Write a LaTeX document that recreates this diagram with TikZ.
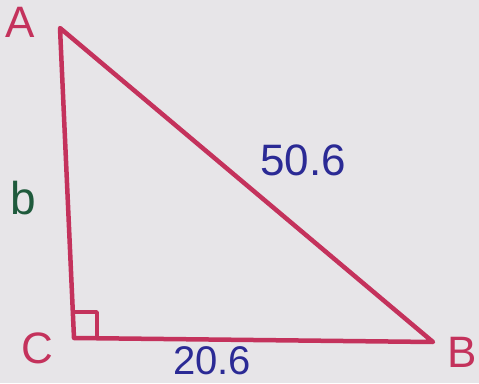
\documentclass[tikz,border=0pt]{standalone}
\usepackage{fontspec}
\setmainfont{Liberation Sans}
\definecolor{paper}{HTML}{E7E5E8}
\definecolor{pen}{HTML}{C4325C}
\definecolor{inkblue}{HTML}{2B2A95}
\definecolor{inkgreen}{HTML}{1F5A3C}
\begin{document}
\begin{tikzpicture}[x=1pt,y=1pt,
  side/.style={draw=pen,line width=4.5pt,line join=round,line cap=round},
  vlabel/.style={text=pen,font=\fontsize{44}{44}\selectfont,inner sep=0pt},
  numlabel/.style={text=inkblue,font=\fontsize{44}{44}\selectfont,inner sep=0pt}]
\fill[paper] (0,0) rectangle (479,383);
\useasboundingbox (0,0) rectangle (479,383);
\coordinate (A) at (60,355);
\coordinate (C) at (74,45);
\coordinate (B) at (433,41);
\draw[side] (A) -- (C) -- (B) -- cycle;
\coordinate (s1) at (74,71);
\coordinate (s2) at (97,71);
\coordinate (s3) at (97,46);
\draw[draw=pen,line width=3.5pt,line join=round] (s1) -- (s2) -- (s3);
\node[vlabel] (lA) at (20,361) {A};
\node[vlabel] (lC) at (37,35) {C};
\node[vlabel] (lB) at (462,31) {B};
\node[text=inkgreen,font=\fontsize{46}{46}\selectfont,inner sep=0pt] (lb) at (23,185) {b};
\node[numlabel] (lhyp) at (303,223) {50.6};
\node[numlabel,font=\fontsize{40}{40}\selectfont] (lbase) at (212,22) {20.6};
\end{tikzpicture}
\end{document}
